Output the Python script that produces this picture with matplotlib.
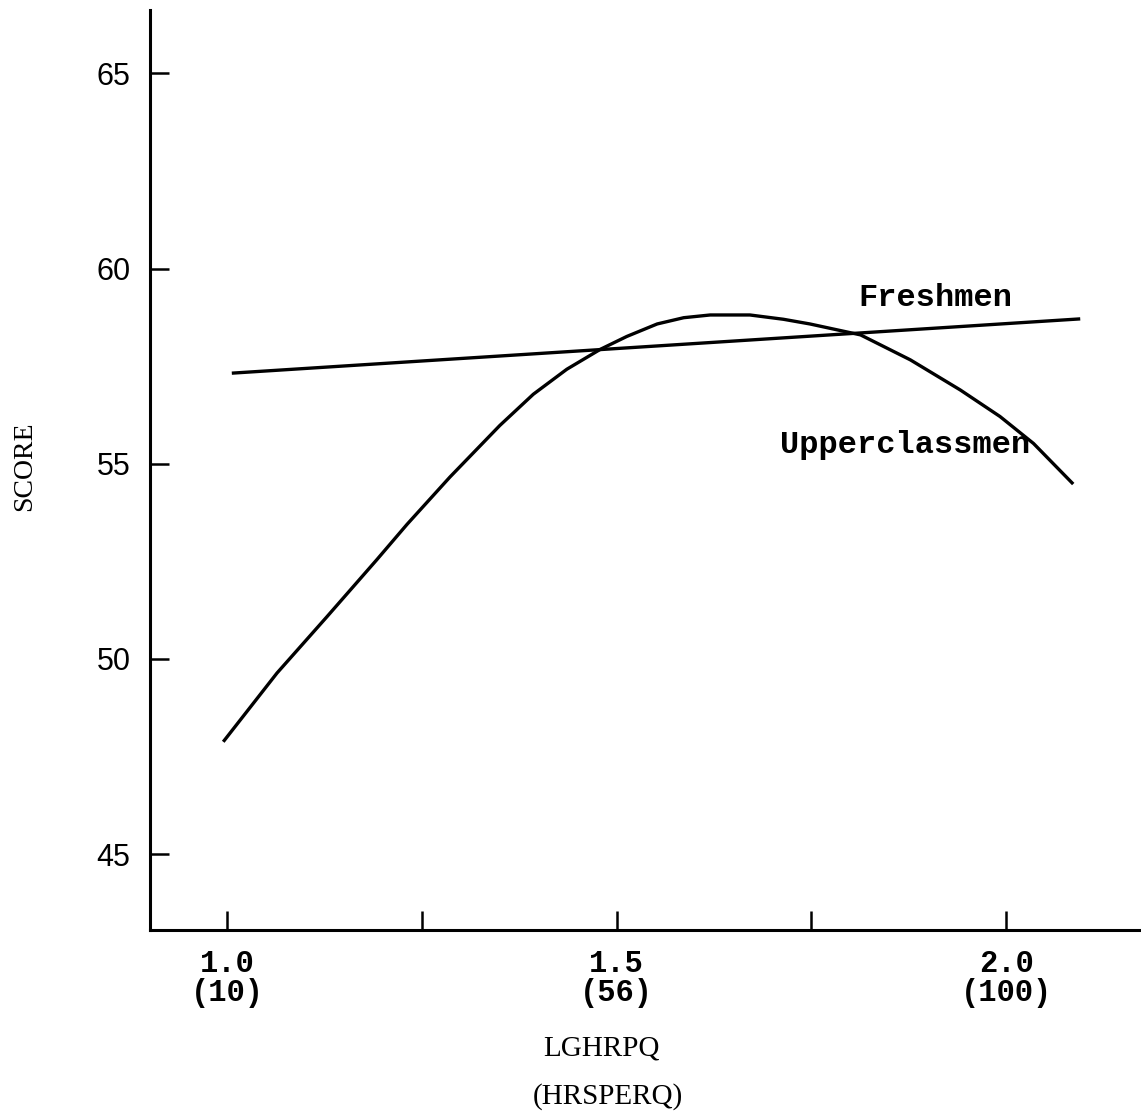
import numpy as np
import matplotlib
matplotlib.use("Agg")
import matplotlib.pyplot as plt

# values
x_ticks = [1.0, 1.25, 1.5, 1.75, 2.0]
x_tick_labels = ["1.0\n(10)", "", "1.5\n(56)", "", "2.0\n(100)"]
y_ticks = [45, 50, 55, 60, 65]

fresh_x = [1.006, 2.095]
fresh_y = [57.32, 58.71]

upper_x = [0.995, 1.064, 1.128, 1.192, 1.231, 1.286, 1.350, 1.393, 1.436,
           1.479, 1.513, 1.552, 1.586, 1.62, 1.671, 1.714, 1.748, 1.813,
           1.877, 1.941, 1.992, 2.035, 2.086]
upper_y = [47.88, 49.64, 51.08, 52.54, 53.45, 54.66, 55.98, 56.78, 57.42,
           57.93, 58.26, 58.58, 58.74, 58.81, 58.81, 58.70, 58.58, 58.30,
           57.66, 56.89, 56.21, 55.52, 54.48]

mono = "Liberation Mono"
serif = "Liberation Serif"

fig = plt.figure(figsize=(11.41, 11.15), dpi=100)
ax = fig.add_axes([150 / 1141, 185 / 1115, 991 / 1141, 920 / 1115])

ax.plot(fresh_x, fresh_y, color="black", lw=2.4, solid_capstyle="butt")
ax.plot(upper_x, upper_y, color="black", lw=2.4, solid_capstyle="butt",
        solid_joinstyle="round")

ax.set_xlim(0.901, 2.173)
ax.set_ylim(43.06, 66.62)

for s in ["top", "right"]:
    ax.spines[s].set_visible(False)
for s in ["left", "bottom"]:
    ax.spines[s].set_linewidth(2.2)

ax.set_xticks(x_ticks)
ax.set_xticklabels(x_tick_labels, fontfamily=mono, fontsize=22,
                   fontweight="bold", linespacing=0.95)
ax.set_yticks(y_ticks)
ax.set_yticklabels([str(v) for v in y_ticks], fontfamily="Liberation Sans", fontsize=22)
ax.tick_params(axis="both", direction="in", length=14, width=1.8)
ax.tick_params(axis="x", pad=14)
ax.tick_params(axis="y", pad=14)

ax.text(1.81, 59.25, "Freshmen", fontfamily=mono, fontsize=23,
        fontweight="bold", ha="left", va="center")
ax.text(1.71, 55.49, "Upperclassmen", fontfamily=mono, fontsize=23,
        fontweight="bold", ha="left", va="center")

fig.text(25 / 1141, 1 - 466 / 1115, "SCORE", rotation=90, fontfamily=serif,
         fontsize=20, ha="center", va="center")
fig.text(601 / 1141, 1 - 1048 / 1115, "LGHRPQ", fontfamily=serif,
         fontsize=21, ha="center", va="center")
fig.text(608 / 1141, 1 - 1097 / 1115, "(HRSPERQ)", fontfamily=serif,
         fontsize=21, ha="center", va="center")

fig.savefig("out.png", dpi=100)
plt.close(fig)
